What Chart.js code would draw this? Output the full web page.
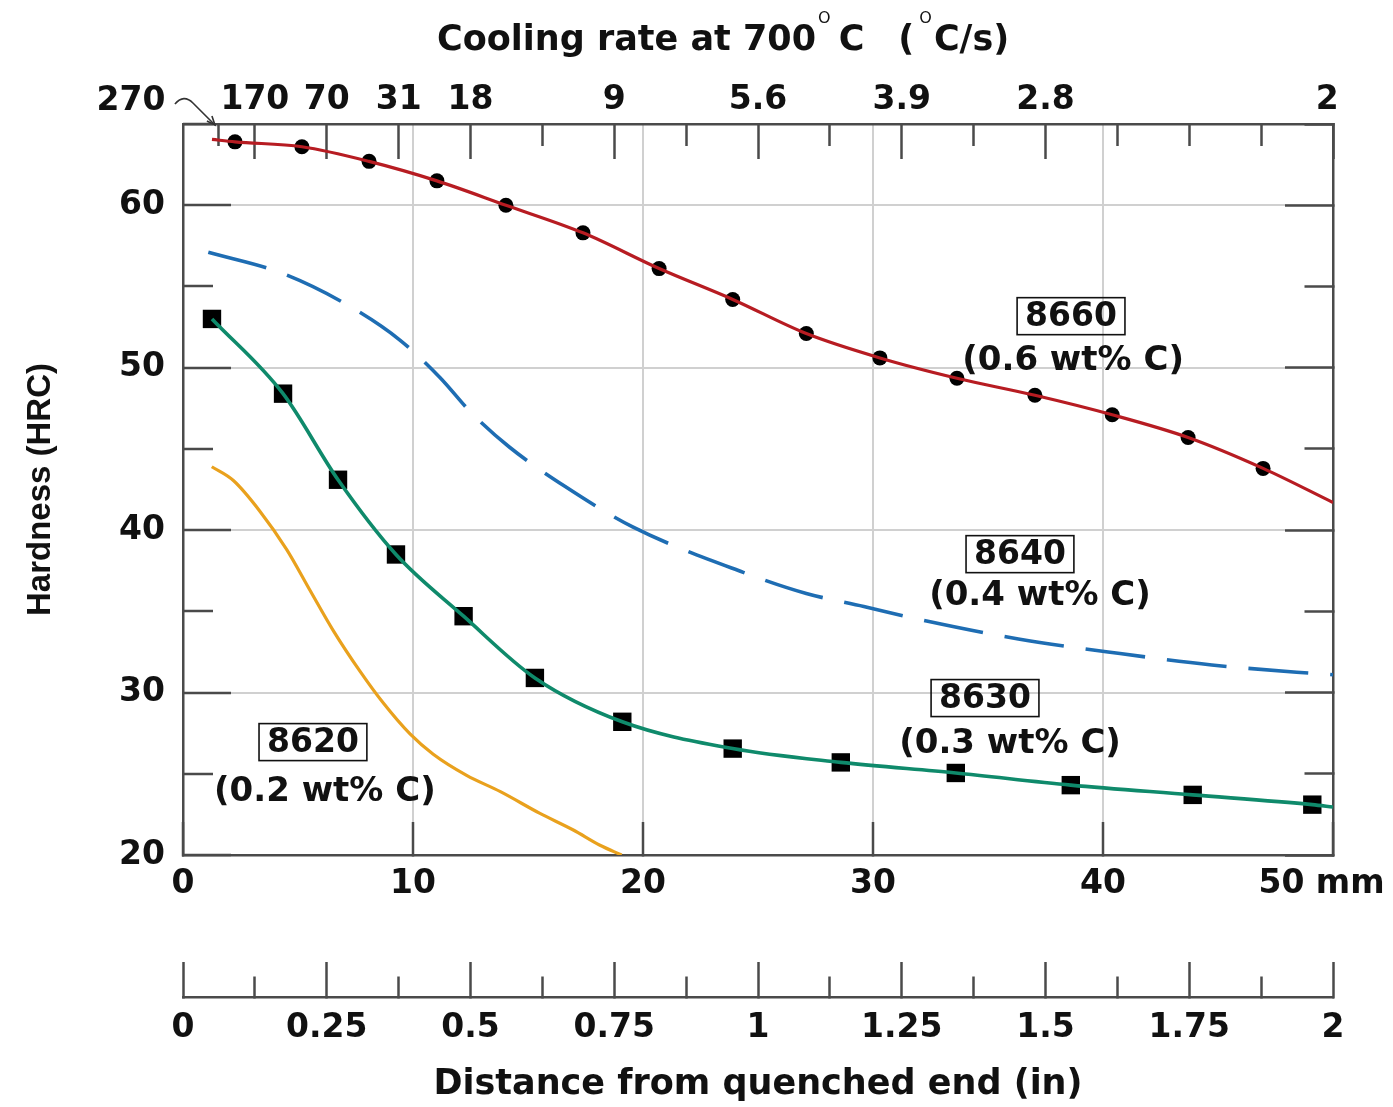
<!DOCTYPE html>
<html><head><meta charset="utf-8">
<script src="https://cdn.jsdelivr.net/npm/chart.js@4.4.0/dist/chart.umd.min.js"></script>
<style>html,body{margin:0;padding:0;background:#fff;overflow:hidden}</style>
</head><body>
<canvas id="c" width="1393" height="1107"></canvas>
<script>
// ---------- data (distance from quenched end in mm, hardness in HRC) ----------
const dist8660 = [2.26, 5.17, 8.09, 11.04, 14.04, 17.39, 20.7, 23.9, 27.1, 30.3, 33.65, 37.04, 40.4, 43.7, 46.96];
const hrc8660  = [63.9, 63.6, 62.7, 61.5, 60.0, 58.3, 56.1, 54.2, 52.1, 50.6, 49.35, 48.3, 47.1, 45.7, 43.8];
const curve8660Start = [1.26, 64.05];
const curve8660End   = [50, 41.7];

const dist8640 = [1.1, 4.33, 7.1, 9.43, 11.17, 12.55, 14.2, 16.6, 19.55, 24.36, 27.1, 29.6, 32.33, 36.32, 40.74, 44.73, 48.42, 50];
const hrc8640  = [57.1, 55.8, 53.9, 51.7, 49.4, 47.2, 45.1, 42.7, 40.2, 37.4, 36.1, 35.3, 34.4, 33.3, 32.4, 31.7, 31.25, 31.1];

const dist8630 = [1.26, 4.35, 6.74, 9.26, 12.2, 15.3, 19.1, 23.9, 28.6, 33.6, 38.6, 43.9, 49.1];
const hrc8630  = [53.0, 48.4, 43.1, 38.5, 34.7, 30.9, 28.2, 26.55, 25.7, 25.05, 24.3, 23.7, 23.1];
const curve8630End = [50, 22.95];

const dist8620 = [1.25, 2.19, 3.35, 4.51, 5.52, 6.54, 7.7, 8.71, 9.87, 10.88, 12.33, 13.8, 15.52, 16.97, 18.13, 19.07];
const hrc8620  = [43.9, 43.05, 41.15, 38.8, 36.3, 33.8, 31.3, 29.35, 27.45, 26.2, 24.9, 23.9, 22.56, 21.54, 20.6, 20.0];

// ---------- tick values / labels ----------
const mmTickValues = [0, 10, 20, 30, 40, 50];
const mmTickLabels = ['0', '10', '20', '30', '40', '50 mm'];
const hrcTickValues = [20, 25, 30, 35, 40, 45, 50, 55, 60, 65];
const hrcTickLabels = ['20', '', '30', '', '40', '', '50', '', '60', ''];
const coolTickInches = [0.0625, 0.125, 0.25, 0.375, 0.5, 0.625, 0.75, 0.875, 1, 1.125, 1.25, 1.375, 1.5, 1.625, 1.75, 1.875, 2];
const coolTickLabels = ['270', '170', '70', '31', '18', '', '9', '', '5.6', '', '3.9', '', '2.8', '', '', '', '2'];
const inchTickValues = [0, 0.125, 0.25, 0.375, 0.5, 0.625, 0.75, 0.875, 1, 1.125, 1.25, 1.375, 1.5, 1.625, 1.75, 1.875, 2];
const inchTickLabels = ['0', '', '0.25', '', '0.5', '', '0.75', '', '1', '', '1.25', '', '1.5', '', '1.75', '', '2'];

// ---------- curve labels ----------
const steelNames  = ['8660', '8640', '8630', '8620'];
const steelCarbon = ['(0.6 wt% C)', '(0.4 wt% C)', '(0.3 wt% C)', '(0.2 wt% C)'];
const nameAtMm    = [38.61, 36.39, 34.87, 5.65];
const nameAtHrc   = [53.17, 38.52, 29.66, 26.95];
const carbonAtMm  = [38.70, 37.26, 35.96, 6.17];
const carbonAtHrc = [50.40, 35.94, 26.83, 23.88];

// ---------- styling ----------
const FONT = '"DejaVu Sans", sans-serif';
const AX = '#4a4a4a';
const GRID = '#d0d0d0';
const NONE = 'rgba(0,0,0,0)';
const TXT = '#111111';

const pts = (xs, ys) => xs.map((x, i) => ({x, y: ys[i]}));

const datasets = [
  { data: pts([curve8660Start[0], ...dist8660, curve8660End[0]], [curve8660Start[1], ...hrc8660, curve8660End[1]]),
    borderColor: '#b71c22', borderWidth: 3.2, pointRadius: 0, cubicInterpolationMode: 'monotone', fill: false },
  { data: pts(dist8660, hrc8660), showLine: false, pointStyle: 'circle', pointRadius: 7.5,
    pointBackgroundColor: '#000', pointBorderWidth: 0 },
  { data: pts(dist8640, hrc8640), borderColor: '#1e6db3', borderWidth: 3.6, borderDash: [60, 22],
    pointRadius: 0, cubicInterpolationMode: 'monotone', fill: false },
  { data: pts([...dist8630, curve8630End[0]], [...hrc8630, curve8630End[1]]),
    borderColor: '#0f8a6b', borderWidth: 3.6, pointRadius: 0, cubicInterpolationMode: 'monotone', fill: false },
  { data: pts(dist8630, hrc8630), showLine: false, pointStyle: 'rect', pointRadius: 13,
    pointBackgroundColor: '#000', pointBorderWidth: 0 },
  { data: pts(dist8620, hrc8620), borderColor: '#e9a11d', borderWidth: 3.2, pointRadius: 0,
    cubicInterpolationMode: 'monotone', fill: false }
];

const setTicks = vals => s => { s.ticks = vals.map(v => ({value: v})); };
const isMajorHrc = v => Math.abs(v % 10) < 1e-9;

const overlay = {
  id: 'overlay',
  afterDraw(chart) {
    const c = chart.ctx, xs = chart.scales.x, ys = chart.scales.y, xt = chart.scales.xTop;
    c.save();
    c.fillStyle = TXT;
    // title with superscript degree "O"
    c.textBaseline = 'alphabetic'; c.textAlign = 'left';
    const base = 50, supBase = 23;
    const main = 'bold 35px ' + FONT, sup = 'normal 16px ' + FONT;
    const parts = [
      ['Cooling rate at 700', main, base, 2],
      ['O', sup, supBase, 8],
      ['C', main, base, 34],
      ['(', main, base, 5],
      ['O', sup, supBase, 2],
      ['C/s)', main, base, 0]
    ];
    let xp = 437;
    for (const [t, f, b, gap] of parts) {
      c.font = f; c.fillText(t, xp, b);
      xp += c.measureText(t).width + gap;
    }

    // first cooling-rate label with its arrow
    const tx = xt.getPixelForValue(coolTickInches[0]);
    c.font = 'bold 33px ' + FONT; c.textAlign = 'center'; c.textBaseline = 'middle';
    c.fillText(coolTickLabels[0], tx - 88, 101);
    c.strokeStyle = '#333'; c.lineWidth = 1.6;
    c.beginPath();
    c.moveTo(tx - 44, 104);
    c.bezierCurveTo(tx - 38, 97, tx - 32, 97, tx - 26, 103);
    c.lineTo(tx - 4, 125);
    c.stroke();
    c.beginPath();
    c.moveTo(tx - 12, 121); c.lineTo(tx - 4, 125); c.lineTo(tx - 7, 116);
    c.stroke();

    // curve labels
    for (let i = 0; i < steelNames.length; i++) {
      const px = xs.getPixelForValue(nameAtMm[i]), py = ys.getPixelForValue(nameAtHrc[i]);
      c.font = 'bold 33px ' + FONT;
      const w = c.measureText(steelNames[i]).width;
      c.fillStyle = TXT;
      c.fillText(steelNames[i], px, py + 1);
      c.strokeStyle = '#111'; c.lineWidth = 1.6;
      c.strokeRect(px - w / 2 - 8, py - 18.5, w + 16, 37);
      const qx = xs.getPixelForValue(carbonAtMm[i]), qy = ys.getPixelForValue(carbonAtHrc[i]);
      c.font = 'bold 34px ' + FONT;
      c.fillText(steelCarbon[i], qx, qy);
    }
    c.restore();
  }
};

new Chart(document.getElementById('c'), {
  type: 'line',
  data: { datasets },
  plugins: [overlay],
  options: {
    responsive: false,
    animation: false,
    layout: { padding: 0 },
    plugins: { legend: { display: false }, tooltip: { enabled: false }, title: { display: false } },
    scales: {
      x: {
        type: 'linear', position: 'bottom', weight: 0, min: 0, max: 50,
        afterBuildTicks: setTicks(mmTickValues),
        ticks: { autoSkip: false, maxRotation: 0, padding: 43, color: TXT,
          font: { family: FONT, size: 33, weight: 'bold' },
          callback: (v, i) => mmTickLabels[i] + (i === mmTickLabels.length - 1 ? '  ' : '') },
        grid: { color: c => (c.tick && c.tick.value > 0 && c.tick.value < 50) ? GRID : NONE,
          lineWidth: 2, drawTicks: true, tickLength: -33, tickColor: AX, tickWidth: 2.5 },
        border: { display: true, color: AX, width: 2.5 },
        afterFit: s => { s.height = 142; s.paddingLeft = 0; s.paddingRight = 0; }
      },
      xIn: {
        type: 'linear', position: 'bottom', weight: 1, min: 0, max: 2,
        afterBuildTicks: setTicks(inchTickValues),
        ticks: { autoSkip: false, maxRotation: 0, padding: 47, color: TXT,
          font: { family: FONT, size: 33, weight: 'bold' },
          callback: (v, i) => inchTickLabels[i] },
        grid: { drawOnChartArea: false, drawTicks: true, tickLength: -35, tickColor: AX, tickWidth: 2.5,
          tickBorderDash: c => (c.index % 2 === 0) ? [] : [22, 100] },
        border: { display: true, color: AX, width: 2.5 },
        title: { display: true, text: 'Distance from quenched end (in)', color: TXT,
          font: { family: FONT, size: 35, weight: 'bold', lineHeight: 1.2 }, padding: { top: 0, bottom: 1 } },
        afterFit: s => { s.height = 110; s.paddingLeft = 0; s.paddingRight = 0; }
      },
      xTop: {
        type: 'linear', position: 'top', min: 0, max: 2,
        afterBuildTicks: setTicks(coolTickInches),
        ticks: { autoSkip: false, maxRotation: 0, padding: 39, color: TXT,
          font: { family: FONT, size: 33, weight: 'bold' },
          callback: (v, i) => i === 0 ? '' : coolTickLabels[i] + (i === coolTickLabels.length - 1 ? ' ' : '') },
        grid: { drawOnChartArea: false, drawTicks: true, tickLength: -35, tickColor: AX, tickWidth: 2.5,
          tickBorderDash: c => (c.index > 0 && coolTickLabels[c.index] !== '') ? [] : [0, 13, 22, 100] },
        border: { display: true, color: AX, width: 2.5 },
        afterFit: s => { s.height = 124; s.paddingLeft = 0; s.paddingRight = 0; }
      },
      y: {
        type: 'linear', position: 'left', min: 20, max: 65,
        afterBuildTicks: setTicks(hrcTickValues),
        ticks: { autoSkip: false, padding: 66, color: TXT,
          font: { family: FONT, size: 33, weight: 'bold' },
          callback: (v, i) => hrcTickLabels[i] },
        grid: { color: c => (c.tick && isMajorHrc(c.tick.value) && c.tick.value > 20 && c.tick.value < 65) ? GRID : NONE,
          lineWidth: 2, drawTicks: true, tickLength: -48, tickColor: AX, tickWidth: 2.5,
          tickBorderDash: c => (c.tick && isMajorHrc(c.tick.value)) ? [] : [0, 18, 30, 100] },
        border: { display: true, color: AX, width: 2.5 },
        title: { display: true, text: 'Hardness (HRC)', color: TXT,
          font: { family: '"Liberation Sans", Arial, sans-serif', size: 33, weight: 'bold', lineHeight: 1.2 },
          padding: { top: 21, bottom: 0 } },
        afterFit: s => { s.width = 183; s.paddingTop = 0; s.paddingBottom = 0; }
      },
      yR: {
        type: 'linear', position: 'right', min: 20, max: 65,
        afterBuildTicks: setTicks(hrcTickValues),
        ticks: { display: false },
        grid: { drawOnChartArea: false, drawTicks: true, tickLength: -48, tickColor: AX, tickWidth: 2.5,
          tickBorderDash: c => (c.tick && isMajorHrc(c.tick.value)) ? [] : [30, 100] },
        border: { display: true, color: AX, width: 2.5 },
        afterFit: s => { s.width = 60; s.paddingTop = 0; s.paddingBottom = 0; }
      }
    }
  }
});
</script>
</body></html>
